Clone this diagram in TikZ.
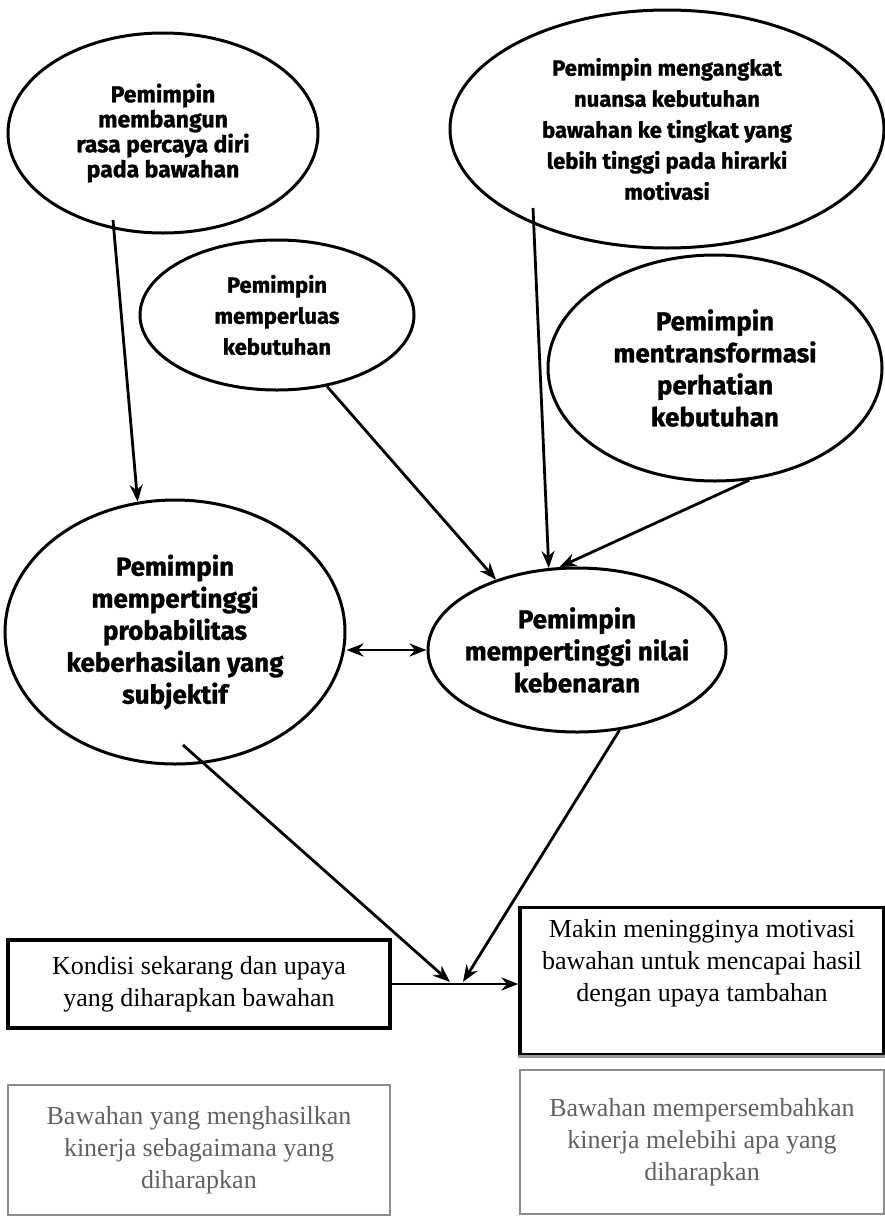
\documentclass[tikz,border=0pt]{standalone}
\usepackage{fontspec}
\setmainfont{Liberation Serif}
\newfontfamily\bubblefont[BoldFeatures={FakeBold=1.2}]{Fira Sans}
\usetikzlibrary{shapes.geometric,arrows.meta,calc}

\tikzset{
  bubble/.style={ellipse, draw, line width=3pt, inner sep=-15pt, align=center},
  small/.style={font=\bubblefont\bfseries\fontsize{23}{25}\selectfont},
  mid/.style={font=\bubblefont\bfseries\fontsize{22}{31}\selectfont},
  large/.style={font=\bubblefont\bfseries\fontsize{26}{32}\selectfont},
  box/.style={rectangle, draw, line width=3.2pt, align=center, font=\fontsize{26}{32}\selectfont},
  greybox/.style={box, draw=black!45, line width=2.4pt, text=black!62},
  hd/.tip={Stealth[length=17pt,width=13pt]},
  arr/.style={line width=2.8pt, -hd},
}

\begin{document}
\begin{tikzpicture}[x=1pt,y=-1pt]
\useasboundingbox (0,0) rectangle (885,1216);
% ellipses
\node[bubble,small,minimum width=310,minimum height=200] (A) at (163,133)
  {Pemimpin\\ membangun\\ rasa percaya diri\\ pada bawahan};
\node[bubble,mid,minimum width=434,minimum height=238] (B) at (667,129)
  {Pemimpin mengangkat\\ nuansa kebutuhan\\ bawahan ke tingkat yang\\ lebih tinggi pada hirarki\\ motivasi};
\node[bubble,mid,minimum width=274,minimum height=150] (C) at (277,315)
  {Pemimpin\\ memperluas\\ kebutuhan};
\node[bubble,large,minimum width=334,minimum height=226] (D) at (715,368)
  {Pemimpin\\ mentransformasi\\ perhatian\\ kebutuhan};
\node[bubble,large,minimum width=340,minimum height=264] (E) at (175,632)
  {Pemimpin\\ mempertinggi\\ probabilitas\\ keberhasilan yang\\ subjektif};
\node[bubble,large,minimum width=298,minimum height=164] (F) at (577,650)
  {Pemimpin\\ mempertinggi nilai\\ kebenaran};
% boxes
\node[box,minimum width=382,minimum height=88] (G) at (199,984)
  {Kondisi sekarang dan upaya\\ yang diharapkan bawahan};
\node[box,minimum width=364,minimum height=147] (H) at (702,981)
  {Makin meningginya motivasi\\ bawahan untuk mencapai hasil\\ dengan upaya tambahan\\ \strut};
\draw[black!40,line width=3pt] (H.south west) -- (H.south east);
\node[greybox,minimum width=382,minimum height=130] (I) at (199,1150)
  {Bawahan yang menghasilkan\\ kinerja sebagaimana yang\\ diharapkan};
\node[greybox,minimum width=364,minimum height=144] (J) at (702,1142)
  {Bawahan mempersembahkan\\ kinerja melebihi apa yang\\ diharapkan};

\coordinate (meetL) at (450,982);
\coordinate (meetR) at (463,982);

% arrows
\draw[arr] ($(A.center)+(-50,87)$) -- (E.106);
\draw[arr] (C.-55) -- (F.139);
\draw[arr] ($(B.center)+(-134,79)$) -- (F.109);
\draw[arr] (D.-73) -- (F.102);
\draw[line width=2.8pt,hd-hd] (F.west -| E.east) -- (F.west);
\draw[arr] ($(E.center)+(8,113)$) -- (meetL);
\draw[arr] (F.-62) -- (meetR);
\draw[arr] (G.east) -- (G.east -| H.west);
\end{tikzpicture}
\end{document}
